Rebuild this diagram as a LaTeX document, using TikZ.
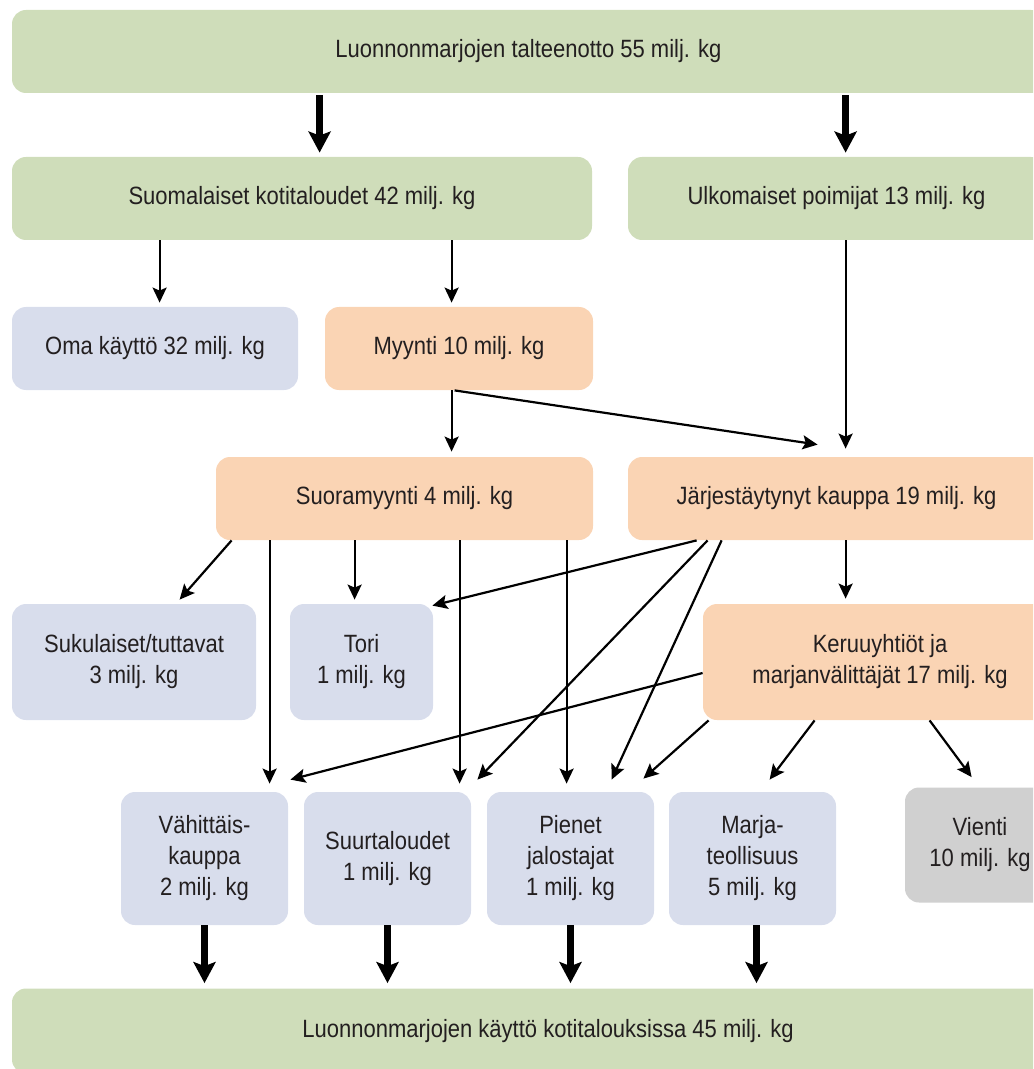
\documentclass[tikz,border=0pt]{standalone}
\usepackage{fontspec}
\setmainfont{Liberation Sans}[FakeStretch=0.88]
\usetikzlibrary{arrows.meta,calc}
\definecolor{SourceClr}{RGB}{207,221,186}
\definecolor{UseClr}{RGB}{216,221,236}
\definecolor{TradeClr}{RGB}{250,212,180}
\definecolor{ExportClr}{RGB}{208,208,208}
\definecolor{TextClr}{RGB}{35,31,32}

\begin{document}
\begin{tikzpicture}[x=.5pt,y=-.5pt,
  box/.style={rounded corners=7pt,inner sep=2pt,align=center,text=TextClr,
    font=\fontsize{12.5}{15.5}\selectfont},
  sourcebox/.style={box,fill=SourceClr},
  usebox/.style={box,fill=UseClr},
  tradebox/.style={box,fill=TradeClr},
  exportbox/.style={box,fill=ExportClr},
  flow/.style={line width=1.1pt,-{Stealth[length=7.5pt,width=7pt,inset=1.5pt]}},
  bigflow/.style={line width=3.2pt,-{Stealth[length=10.5pt,width=11pt,inset=2pt]}}]
\useasboundingbox (0,0) rectangle (1033,1069);
\clip (0,0) rectangle (1033,1069);

\node[sourcebox,minimum width=516.5pt,minimum height=41.5pt] (top) at (528.5,51.5) {Luonnonmarjojen talteenotto 55 milj. kg};
\node[sourcebox,minimum width=290pt,minimum height=41.5pt] (suom) at (302,198.5) {Suomalaiset kotitaloudet 42 milj. kg};
\node[sourcebox,minimum width=208.5pt,minimum height=41.5pt] (ulko) at (836.5,198.5) {Ulkomaiset poimijat 13 milj. kg};

\node[usebox,minimum width=143pt,minimum height=41.5pt] (oma) at (155,348.5) {Oma käyttö 32 milj. kg};
\node[tradebox,minimum width=134pt,minimum height=41.5pt] (myyn) at (459,348.5) {Myynti 10 milj. kg};

\node[tradebox,minimum width=188.5pt,minimum height=41.5pt] (suora) at (404.5,498.5) {Suoramyynti 4 milj. kg};
\node[tradebox,minimum width=208.5pt,minimum height=41.5pt] (jarj) at (836.5,498.5) {Järjestäytynyt kauppa 19 milj. kg};

\node[usebox,minimum width=122pt,minimum height=58pt] (suku) at (134,662) {Sukulaiset/tuttavat\\3 milj. kg};
\node[usebox,minimum width=71.5pt,minimum height=58pt] (tori) at (361.5,662) {Tori\\1 milj. kg};
\node[tradebox,minimum width=177pt,minimum height=58pt] (keru) at (880,662) {Keruuyhtiöt ja\\marjanvälittäjät 17 milj. kg};

\node[usebox,minimum width=83.5pt,minimum height=66.5pt] (vah) at (204.5,858.5) {Vähittäis-\\kauppa\\2 milj. kg};
\node[usebox,minimum width=83.5pt,minimum height=66.5pt] (suur) at (387.5,858.5) {Suurtaloudet\\1 milj. kg};
\node[usebox,minimum width=83.5pt,minimum height=66.5pt] (pien) at (570.5,858.5) {Pienet\\jalostajat\\1 milj. kg};
\node[usebox,minimum width=83.5pt,minimum height=66.5pt] (marj) at (752.5,858.5) {Marja-\\teollisuus\\5 milj. kg};
\node[exportbox,minimum width=75pt,minimum height=57.5pt] (vien) at (980,845) {Vienti\\10 milj. kg};

\node[sourcebox,minimum width=536pt,minimum height=42.5pt] (bott) at (548,1031) {Luonnonmarjojen käyttö kotitalouksissa 45 milj. kg};

\draw[bigflow] ($(top.south west)+(308,2)$) -- ($(suom.north west)+(308,-4)$);
\draw[bigflow] ($(top.south west)+(834,2)$) -- ($(ulko.north west)+(218,-4)$);

\draw[flow] ($(suom.south west)+(148,0)$) -- ($(oma.north west)+(148,-4)$);
\draw[flow] ($(suom.south west)+(440,0)$) -- ($(myyn.north west)+(127,-4)$);
\draw[flow] ($(ulko.south west)+(218,0)$) -- ($(jarj.north west)+(218,-8)$);
\draw[flow] ($(myyn.south west)+(127,0)$) -- ($(suora.north west)+(236,-5)$);
\draw[flow] ($(myyn.south west)+(130,0)$) -- ($(jarj.north west)+(190,-12)$);

\draw[flow] ($(suora.south west)+(16,0)$) -- ($(suku.north west)+(168,-4)$);
\draw[flow] ($(suora.south west)+(54,0)$) -- ($(vah.north west)+(149,-8)$);
\draw[flow] ($(suora.south west)+(139,0)$) -- ($(tori.north west)+(65,-4)$);
\draw[flow] ($(suora.south west)+(244,0)$) -- ($(suur.north west)+(156,-8)$);
\draw[flow] ($(suora.south west)+(351,0)$) -- ($(pien.north west)+(80,-8)$);

\draw[flow] ($(jarj.south west)+(69,0)$) -- ($(tori.north east)+(-1,2)$);
\draw[flow] ($(jarj.south west)+(80,0)$) -- ($(suur.north east)+(6,-12)$);
\draw[flow] ($(jarj.south west)+(94,0)$) -- ($(pien.north west)+(125,-12)$);
\draw[flow] ($(jarj.south west)+(218,0)$) -- ($(keru.north west)+(143,-5)$);

\draw[flow] ($(keru.west)+(0,11)$) -- ($(vah.north east)+(2,-12)$);
\draw[flow] ($(keru.south west)+(6,0)$) -- ($(pien.north east)+(-11,-13)$);
\draw[flow] ($(keru.south west)+(112,0)$) -- ($(marj.north west)+(101,-12)$);
\draw[flow] ($(keru.south west)+(227,0)$) -- ($(vien.north west)+(67,-10)$);

\draw[bigflow] (vah.south) -- ($(vah.south |- bott.north)+(0,-5)$);
\draw[bigflow] (suur.south) -- ($(suur.south |- bott.north)+(0,-5)$);
\draw[bigflow] (pien.south) -- ($(pien.south |- bott.north)+(0,-5)$);
\draw[bigflow] ($(marj.south)+(4,0)$) -- ($(marj.south |- bott.north)+(4,-5)$);

\end{tikzpicture}
\end{document}
